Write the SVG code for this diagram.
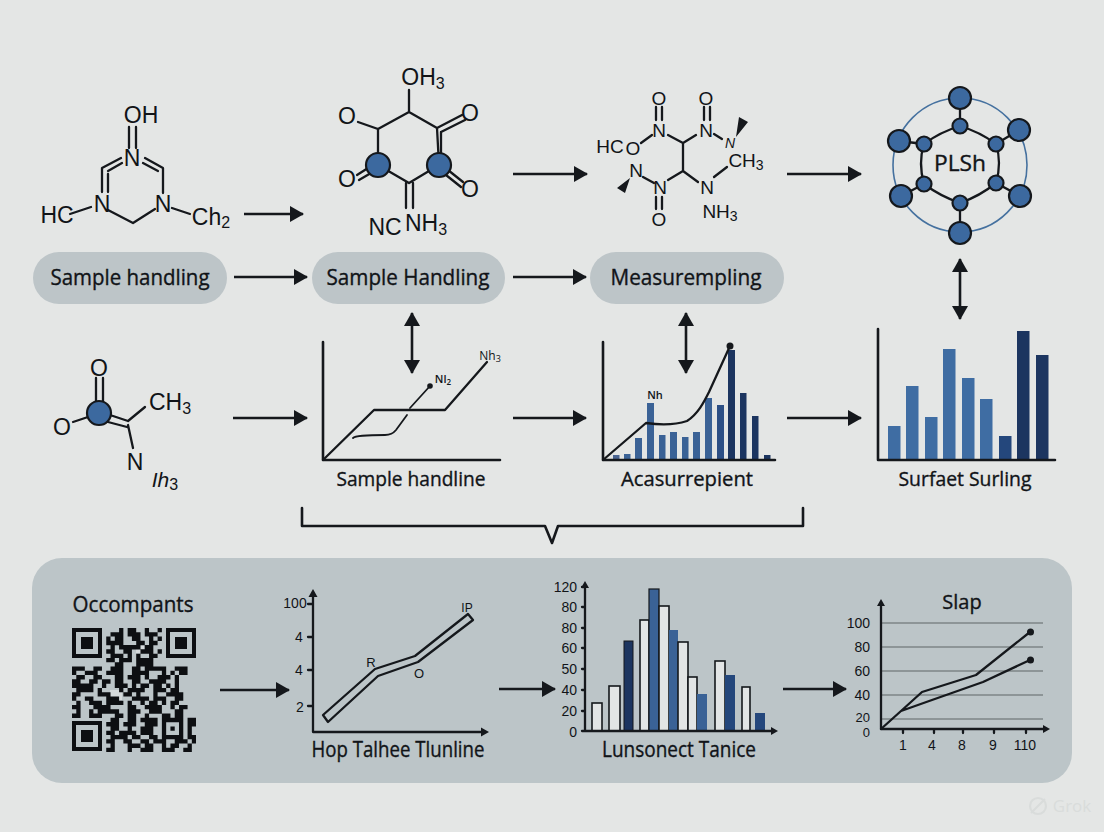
<svg xmlns="http://www.w3.org/2000/svg" width="1104" height="832" viewBox="0 0 1104 832">
<style>
text{font-family:"Open Sans","Liberation Sans",sans-serif;fill:#111418;text-anchor:middle}
.m{font-family:"Liberation Sans",Arial,sans-serif;font-size:23px}
.s{font-size:16px}
.pl{font-size:21px;stroke:#111418;stroke-width:.35}
.cap{font-size:20px;stroke:#111418;stroke-width:.35}
.t{font-family:"Liberation Sans",Arial,sans-serif;font-size:13px}
.e{text-anchor:end}
.b,.b1,.w,.ar,.ad{fill:none;stroke:#15181c;stroke-linecap:round;stroke-linejoin:round}
.b{stroke-width:2.3}
.b1{stroke-width:1.8}
.w{stroke-width:2.6}
.ar{stroke-width:2.6;marker-end:url(#h);stroke-linecap:butt}
.ad{stroke-width:2.6;marker-end:url(#h);marker-start:url(#hs);stroke-linecap:butt}
.k{fill:#15181c;stroke:none}
.pill{fill:#bdc5c8}
.bl{fill:#3f6da3}
.bm{fill:#3a6296}
.dk{fill:#1c3560}
.dm{fill:#24477c}
.wh{fill:#e2e5e5;stroke:#15181c;stroke-width:1.6}
.node{fill:#3c699f;stroke:#15181c;stroke-width:2.2}
.grid{stroke:#7d8587;stroke-width:1.4;fill:none}
</style>
<defs>
<marker id="h" markerUnits="userSpaceOnUse" markerWidth="14" markerHeight="16" refX="13" refY="8" orient="auto"><path d="M0 0L14 8L0 16z" fill="#15181c"/></marker>
<marker id="hs" markerUnits="userSpaceOnUse" markerWidth="14" markerHeight="16" refX="1" refY="8" orient="auto"><path d="M14 0L0 8L14 16z" fill="#15181c"/></marker>
<clipPath id="qc"><rect x="72" y="628" width="124" height="124"/></clipPath>
</defs>
<rect width="1104" height="832" fill="#e4e6e5"/>
<rect id="panel" x="32" y="558" width="1040" height="225" rx="30" fill="#bcc5c8"/>

<g id="molecule-1">
<path class="b" d="M129 127V148M136 127V148M121 158L102 168V192M122 163L108 171M108 174V192M145 158L163 168V193M143 163L158 171M108 210L133 223L155 209M70 214L91 207M172 208L190 214"/>
<text class="m" x="141" y="123">OH</text>
<text class="m" x="132" y="166">N</text>
<text class="m" x="102" y="212">N</text>
<text class="m" x="163" y="212">N</text>
<text class="m" x="57" y="223">HC</text>
<text class="m" x="211" y="225">Ch<tspan class="s" dy="3">2</tspan></text>
</g>
<g id="molecule-2">
<path class="b" d="M409 90V112L378 129V165L409 183L439 165L437 128L409 112M358 122L378 129M437 128L462 115M441 132L465 120M441 132V165M357 175L368 168M359 180L371 173M448 170L463 182M446 175L461 187M406 183V208M413 183V208"/>
<circle class="node" cx="378" cy="165" r="12"/><circle class="node" cx="439" cy="165" r="12"/>
<text class="m" x="423" y="85">OH<tspan class="s" dy="4">3</tspan></text>
<text class="m" x="347" y="124">O</text>
<text class="m" x="470" y="121">O</text>
<text class="m" x="347" y="187">O</text>
<text class="m" x="470" y="197">O</text>
<text class="m" x="385" y="235">NC</text>
<text class="m" x="426" y="231">NH<tspan class="s" dy="4">3</tspan></text>
</g>
<g id="molecule-3">
<path class="b" d="M656 107V120M662 107V120M704 107V120M710 107V120M656 197V209M662 197V209M641 143L652 135M668 135L683 143L696 135M683 143V171M668 180L683 171L698 182M643 177L654 183M714 177L727 167M714 134L722 139"/>
<path class="k" d="M736 137L739 117L748 122zM630 178L617 188L625 193z"/>
<text class="m" x="659" y="105" style="font-size:19px">O</text><text class="m" x="706" y="105" style="font-size:19px">O</text>
<text class="m" x="659" y="137" style="font-size:19px">N</text><text class="m" x="706" y="137" style="font-size:19px">N</text>
<text class="m" x="610" y="153" style="font-size:19px">HC</text><text class="m" x="633" y="155" style="font-size:19px">O</text>
<text class="m" x="636" y="177" style="font-size:19px">N</text><text class="m" x="660" y="194" style="font-size:19px">N</text>
<text class="m" x="707" y="194" style="font-size:19px">N</text><text class="m" x="659" y="226" style="font-size:19px">O</text>
<text class="m" x="730" y="148" style="font-size:14px;font-style:italic">N</text>
<text class="m" x="746" y="167" style="font-size:19px">CH<tspan style="font-size:14px" dy="3">3</tspan></text>
<text class="m" x="720" y="218" style="font-size:19px">NH<tspan style="font-size:14px" dy="3">3</tspan></text>
</g>
<g id="molecule-4">
<circle cx="960" cy="165" r="67" fill="none" stroke="#45719f" stroke-width="1.6"/>
<path class="b" d="M960 98V126M1019 130L996 144M1020 196L996 183M960 233V203M901 196L924 184M899 141L924 144"/>
<path class="b" fill="none" d="M960 126Q980 132 996 144Q1002 163 996 183Q980 196 960 203Q940 196 924 184Q918 163 924 144Q940 132 960 126z"/>
<g class="node"><circle cx="960" cy="98" r="11"/><circle cx="1019" cy="130" r="11"/><circle cx="1020" cy="196" r="11"/><circle cx="960" cy="233" r="11"/><circle cx="901" cy="196" r="11"/><circle cx="899" cy="141" r="11"/><circle cx="960" cy="126" r="7.5"/><circle cx="996" cy="144" r="7.5"/><circle cx="996" cy="183" r="7.5"/><circle cx="960" cy="203" r="7.5"/><circle cx="924" cy="184" r="7.5"/><circle cx="924" cy="144" r="7.5"/></g>
<text x="960" y="171" style="font-size:21px;stroke:#111418;stroke-width:.35" textLength="52" lengthAdjust="spacingAndGlyphs">PLSh</text>
</g>

<g id="pill-1"><rect class="pill" x="33" y="252" width="194" height="52" rx="26"/><text class="pl" x="130" y="285" textLength="159" lengthAdjust="spacingAndGlyphs">Sample handling</text></g>
<g id="pill-2"><rect class="pill" x="312" y="252" width="193" height="52" rx="26"/><text class="pl" x="408" y="285" textLength="163" lengthAdjust="spacingAndGlyphs">Sample Handling</text></g>
<g id="pill-3"><rect class="pill" x="590" y="252" width="194" height="52" rx="26"/><text class="pl" x="686" y="285" textLength="151" lengthAdjust="spacingAndGlyphs">Measurempling</text></g>

<g id="molecule-5">
<path class="b" d="M96 378V402M103 378V402M73 422L88 417M110 415L128 421M108 422L127 427M128 421L145 407M128 425L133 448"/>
<circle class="node" cx="99" cy="413" r="12"/>
<text class="m" x="99" y="376">O</text>
<text class="m" x="62" y="435">O</text>
<text class="m" x="170" y="410">CH<tspan class="s" dy="4">3</tspan></text>
<text class="m" x="135" y="470">N</text>
<text class="m" x="165" y="487" style="font-size:21px;font-style:italic">Ih<tspan class="s" dy="3" style="font-style:normal">3</tspan></text>
</g>
<g id="chart-1">
<path class="w" d="M323 342V460H500"/>
<path class="b" d="M323 460L374 410H445L487 362"/>
<path class="b1" d="M353 438Q356 435 385 435Q392 435 396 430L407 415M410 408L430 386"/>
<circle class="k" cx="430" cy="386" r="2.8"/>
<text x="443" y="383" style="font-size:11px;font-weight:600">Nl<tspan style="font-size:8px" dy="2">2</tspan></text>
<text x="490" y="360" style="font-size:12px">Nh<tspan style="font-size:9px" dy="2">3</tspan></text>
<text class="cap" x="411" y="486" textLength="149" lengthAdjust="spacingAndGlyphs">Sample handline</text>
</g>
<g id="chart-2">
<g class="bm">
<rect x="613" y="455" width="6.5" height="5" fill="#4b6592"/><rect x="624" y="454" width="6.5" height="6"/><rect x="635" y="438" width="7" height="22"/><rect x="647" y="403" width="7" height="57"/><rect x="659" y="435" width="6.5" height="25"/><rect x="670" y="432" width="7" height="28"/><rect x="682" y="437" width="6.5" height="23"/><rect x="693" y="432" width="7" height="28"/><rect x="705" y="398" width="7" height="62"/>
</g>
<g class="dk"><rect x="717" y="405" width="7" height="55" fill="#2c4f85"/><rect x="728" y="350" width="7" height="110"/><rect x="740" y="393" width="6.5" height="67"/><rect x="752" y="416" width="6.5" height="44"/><rect x="764" y="455" width="6.5" height="5"/></g>
<path class="w" d="M603 342V460H775"/>
<path class="b" d="M603 460L646 423C660 425 675 425 687 421C698 414 704 402 709 392L730 346"/>
<circle class="k" cx="730" cy="346" r="3.5"/>
<text x="655" y="399" style="font-size:11px;font-weight:600">Nh</text>
<text class="cap" x="687" y="486" textLength="132" lengthAdjust="spacingAndGlyphs">Acasurrepient</text>
</g>
<g id="chart-3">
<g class="bl"><rect x="888" y="426" width="12.5" height="34"/><rect x="906" y="386" width="12.5" height="74"/><rect x="925" y="417" width="12.5" height="43"/><rect x="943" y="349" width="12.5" height="111"/><rect x="962" y="378" width="12.5" height="82"/><rect x="980" y="399" width="12.5" height="61"/></g>
<rect class="dm" x="999" y="436" width="12.5" height="24"/><rect class="dk" x="1017" y="331" width="12.5" height="129"/><rect class="dk" x="1036" y="355" width="12.5" height="105"/>
<path class="w" d="M878 329V460H1055"/>
<text class="cap" x="965" y="486" textLength="133" lengthAdjust="spacingAndGlyphs">Surfaet Surling</text>
</g>

<g id="connectors">
<path class="ar" d="M244 214H303"/>
<path class="ar" d="M513 174H587"/>
<path class="ar" d="M787 174H861"/>
<path class="ar" d="M234 277H307"/>
<path class="ar" d="M513 277H586"/>
<path class="ar" d="M233 418H307"/>
<path class="ar" d="M513 418H586"/>
<path class="ar" d="M787 418H861"/>
<path class="ad" d="M412 313V373"/>
<path class="ad" d="M686 313V373"/>
<path class="ad" d="M960 259V319"/>
<path class="w" d="M302 508V526H545L552 543L558 526H803V508"/>
<path class="ar" d="M220 690H289"/>
<path class="ar" d="M499 689H555"/>
<path class="ar" d="M783 689H846"/>
</g>

<g id="qr">
<text class="cap" x="133" y="612" textLength="121" lengthAdjust="spacingAndGlyphs" style="font-size:21px">Occompants</text>
<rect x="110" y="690" width="12" height="10" fill="#d5dadc"/><rect x="136" y="645" width="8" height="8" fill="#d5dadc"/>
<g fill="none" stroke="#0d0f12">
<rect x="74" y="630" width="26" height="26" stroke-width="4"/><rect x="168" y="630" width="26" height="26" stroke-width="4"/><rect x="74" y="723" width="26" height="26" stroke-width="4"/>
</g>
<g fill="#0d0f12"><rect x="81" y="637" width="12" height="12"/><rect x="175" y="637" width="12" height="12"/><rect x="81" y="730" width="12" height="12"/></g>
<g clip-path="url(#qc)"><path transform="translate(72 628) scale(4.28)" fill="none" stroke="#0d0f12" stroke-width="1.02" d="M11 .5h1m1 0h2m2 0h1m2 0h1M9 1.5h3m1 0h3m1 0h3M8 2.5h1m1 0h2m2 0h2m2 0h1m1 0h1M8 3.5h4m3 0h2m1 0h2M9 4.5h1m1 0h5m1 0h2M8 5.5h2m2 0h2m2 0h3m1 0h1M9 6.5h3m1 0h1m1 0h1m2 0h2M8 7.5h2m1 0h3m1 0h4M10 8.5h2m3 0h4M0 9.5h3m2 0h2m2 0h3m2 0h2m1 0h5m2 0h3M0 10.5h1m2 0h3m2 0h4m2 0h4m3 0h1m1 0h1m1 0h2M1 11.5h2m2 0h2m3 0h2m1 0h3m1 0h1m2 0h3m1 0h1M0 12.5h2m2 0h2m1 0h2m1 0h2m2 0h2m2 0h4m2 0h1M0 13.5h5m2 0h1m2 0h3m1 0h1m1 0h2m1 0h2m1 0h1m1 0h1M1 14.5h4m1 0h1m4 0h1m1 0h4m2 0h3m1 0h2M0 15.5h2m4 0h3m3 0h2m1 0h1m3 0h1m2 0h4M0 16.5h1m2 0h2m3 0h3m3 0h4m1 0h3m2 0h2M1 17.5h1m2 0h3m1 0h4m1 0h1m2 0h1m1 0h2m1 0h1m1 0h2M0 18.5h2m3 0h4m4 0h2m2 0h4m2 0h1m1 0h2M1 19.5h1m2 0h1m1 0h5m2 0h3m2 0h3m3 0h2M0 20.5h2m2 0h3m3 0h2m1 0h2m2 0h1m3 0h2m1 0h2M9 21.5h2m2 0h2m1 0h4m1 0h5m1 0h2M8 22.5h3m1 0h3m2 0h3m1 0h1m3 0h1m1 0h2M9 23.5h2m2 0h1m2 0h3m2 0h1m1 0h1m1 0h1m1 0h1M8 24.5h2m1 0h4m1 0h3m2 0h1m3 0h1m1 0h1M9 25.5h4m1 0h2m2 0h2m1 0h5m1 0h2M8 26.5h2m2 0h2m2 0h2m1 0h3m2 0h3m1 0h1M9 27.5h1m3 0h3m1 0h2m2 0h1m1 0h2m2 0h1M8 28.5h2m3 0h1m2 0h3m2 0h3m2 0h2"/></g>
</g>

<g id="chart-4">
<path class="b" d="M313 732V592M313 732H485M308 604H313M308 637H313M308 670H313M308 706H313"/>
<path class="k" d="M313 589L317.5 597H308.5zM489 732L481 736.5V727.5z"/>
<path class="b" d="M323 715L375 669L415 656L468 614L473 620L418 662L378 676L328 722z" style="fill:none"/>
<text x="295" y="608" style="font-size:14px;font-family:'Liberation Sans'">100</text>
<text x="299" y="642" style="font-size:14px;font-family:'Liberation Sans'">4</text><text x="299" y="675" style="font-size:14px;font-family:'Liberation Sans'">4</text><text x="300" y="712" style="font-size:14px;font-family:'Liberation Sans'">2</text>
<text x="371" y="667" style="font-size:13px;font-family:'Liberation Sans'">R</text><text x="419" y="678" style="font-size:13px;font-family:'Liberation Sans'">O</text><text x="467" y="612" style="font-size:12px;font-family:'Liberation Sans'">IP</text>
<text class="cap" x="398" y="757" textLength="173" lengthAdjust="spacingAndGlyphs" style="font-size:21px">Hop Talhee Tlunline</text>
</g>
<g id="chart-5">
<rect class="wh" x="592" y="703" width="10" height="28"/><rect class="wh" x="609" y="686" width="11" height="45"/>
<rect class="dk" x="624" y="641" width="9" height="90" stroke="#15181c"/>
<rect class="wh" x="640" y="620" width="9" height="111"/><rect class="bm" x="649" y="589" width="10" height="142" stroke="#15181c" stroke-width="1.2"/><rect class="wh" x="659" y="606" width="10" height="125"/><rect class="bm" x="669" y="630" width="9" height="101"/><rect class="wh" x="678" y="642" width="10" height="89"/><rect class="wh" x="688" y="677" width="9" height="54"/><rect class="bm" x="697" y="694" width="10" height="37"/><rect class="wh" x="715" y="661" width="10" height="70"/><rect class="dm" x="725" y="675" width="10" height="56"/><rect class="wh" x="742" y="687" width="8" height="44"/><rect class="dm" x="755" y="713" width="10" height="18"/>
<path class="b" d="M585 731V585M582 731H774M582 587H585M582 607H585M582 628H585M582 648H585M582 669H585M582 690H585M582 711H585"/>
<path class="k" d="M585 581L589 588H581zM778 731L771 735V727z"/>
<text class="e" x="577" y="592" style="font-size:14px;font-family:'Liberation Sans'">120</text><text class="e" x="577" y="612" style="font-size:14px;font-family:'Liberation Sans'">80</text><text class="e" x="577" y="633" style="font-size:14px;font-family:'Liberation Sans'">80</text><text class="e" x="577" y="653" style="font-size:14px;font-family:'Liberation Sans'">60</text><text class="e" x="577" y="674" style="font-size:14px;font-family:'Liberation Sans'">50</text><text class="e" x="577" y="695" style="font-size:14px;font-family:'Liberation Sans'">40</text><text class="e" x="577" y="716" style="font-size:14px;font-family:'Liberation Sans'">20</text><text class="e" x="577" y="737" style="font-size:14px;font-family:'Liberation Sans'">0</text>
<text class="cap" x="679" y="757" textLength="154" lengthAdjust="spacingAndGlyphs" style="font-size:21px">Lunsonect Tanice</text>
</g>
<g id="chart-6">
<path class="grid" d="M881 623H1043M881 647H1043M881 671H1043M881 695H1043M881 719H1043"/>
<path class="b" d="M881 729V602M881 729H1046M903 729V733M934 729V733M963 729V733M994 729V733M1026 729V733"/>
<path class="k" d="M881 599L885 606H877zM1050 729L1043 733V725z"/>
<path class="b" d="M881 729L901 711L922 692L976 675L1030 632M901 711L932 700L983 682L1030 660"/>
<circle class="k" cx="1030.5" cy="632" r="3.5"/><circle class="k" cx="1030.5" cy="660" r="3.5"/>
<text x="962" y="609" style="font-size:20px;stroke:#111418;stroke-width:.35">Slap</text>
<text class="t e" x="870" y="628" style="font-size:14px">100</text><text class="t e" x="870" y="652" style="font-size:14px">80</text><text class="t e" x="870" y="676" style="font-size:14px">60</text><text class="t e" x="870" y="700" style="font-size:14px">40</text><text class="t e" x="870" y="722">20</text><text class="t e" x="870" y="737">0</text>
<text class="t" x="903" y="750" style="font-size:14px">1</text><text class="t" x="932" y="750" style="font-size:14px">4</text><text class="t" x="962" y="750" style="font-size:14px">8</text><text class="t" x="993" y="750" style="font-size:14px">9</text><text class="t" x="1025" y="750" style="font-size:14px">110</text>
</g>
<g id="watermark">
<circle cx="1038" cy="806" r="8" fill="none" stroke="#d9dcdb" stroke-width="2.2"/><path d="M1031 813L1045 799" stroke="#d9dcdb" stroke-width="2"/>
<text x="1072" y="812" style="font-size:17px;fill:#d9dcdb">Grok</text>
</g>
</svg>
